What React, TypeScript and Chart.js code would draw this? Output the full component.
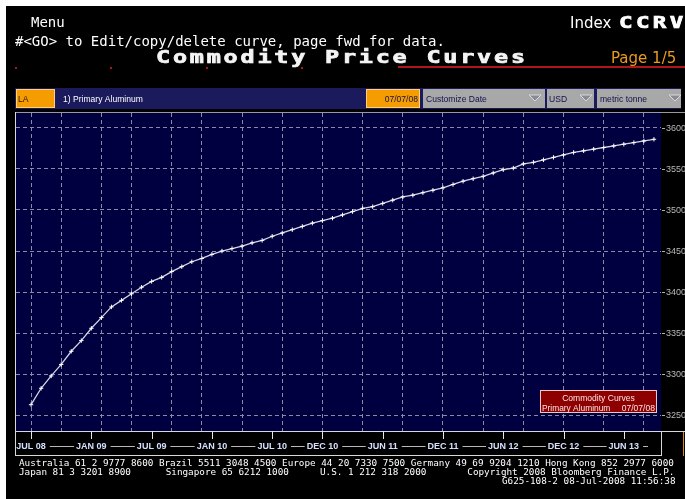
import React, { useEffect, useRef } from "react";
import { Chart, registerables } from "chart.js";

Chart.register(...registerables);

// Months after JUL 08 for each point on the forward curve
const monthOffsets = [
  0, 1, 2, 3, 4, 5, 6, 7, 8, 9, 10, 11, 12, 13, 14, 15, 16, 17, 18, 19, 20,
  21, 22, 23, 24, 25, 26, 27, 28, 29, 30, 31, 32, 33, 34, 35, 36, 37, 38, 39,
  40, 41, 42, 43, 44, 45, 46, 47, 48, 49, 50, 51, 52, 53, 54, 55, 56, 57, 58,
  59, 60, 61, 62,
];

// Primary Aluminum price curve, USD / metric tonne
const prices = [
  3263, 3283, 3298, 3312, 3328, 3341, 3356, 3369, 3382, 3390, 3398, 3406, 3413,
  3418, 3425, 3431, 3437, 3441, 3446, 3450, 3453, 3456, 3460, 3463, 3468, 3472,
  3476, 3480, 3484, 3487, 3490, 3494, 3498, 3502, 3504, 3508, 3512, 3516, 3518,
  3521, 3524, 3527, 3531, 3535, 3538, 3541, 3545, 3549, 3551, 3556, 3558, 3561,
  3564, 3567, 3570, 3572, 3574, 3576, 3578, 3580, 3582, 3584, 3586,
];

const yTicks = [3250, 3300, 3350, 3400, 3450, 3500, 3550, 3600];
const gridMonths = [0, 3, 7, 10, 14, 17, 21, 25, 29, 33, 37, 41, 45, 49, 53, 57, 61];
const xTickLabels = [
  "JUL 08", "JAN 09", "JUL 09", "JAN 10", "JUL 10", "DEC 10",
  "JUN 11", "DEC 11", "JUN 12", "DEC 12", "JUN 13",
];
const xTickMonths = [0, 6, 12, 18, 24, 29, 35, 41, 47, 53, 59];

const W = 685;
const H = 499;

function drawWide(ctx: CanvasRenderingContext2D, text: string, x0: number, y: number, step: number, sx: number) {
  for (let i = 0; i < text.length; i++) {
    const ch = text[i];
    if (ch === " ") continue;
    ctx.save();
    ctx.translate(x0 + i * step, y);
    ctx.scale(sx, 1);
    ctx.lineWidth = 0.7;
    ctx.strokeStyle = ctx.fillStyle as string;
    ctx.fillText(ch, 0, 0);
    ctx.strokeText(ch, 0, 0);
    ctx.restore();
  }
}

function narrowText(ctx: CanvasRenderingContext2D, text: string, x: number, y: number, sx: number, align: "left" | "right" | "center") {
  ctx.save();
  ctx.translate(x, y);
  ctx.scale(sx, 1);
  ctx.textAlign = align;
  ctx.fillText(text, 0, 0);
  ctx.restore();
}

function triangle(ctx: CanvasRenderingContext2D, cx: number, cy: number) {
  ctx.beginPath();
  ctx.moveTo(cx - 6, cy - 3);
  ctx.lineTo(cx + 6, cy - 3);
  ctx.lineTo(cx, cy + 3);
  ctx.closePath();
  ctx.fillStyle = "#8a8a96";
  ctx.fill();
  ctx.strokeStyle = "#d8d8d8";
  ctx.lineWidth = 1;
  ctx.stroke();
}

const terminalPlugin = {
  id: "terminal",
  beforeDraw(chart: any) {
    const ctx: CanvasRenderingContext2D = chart.ctx;
    const ca = chart.chartArea;
    ctx.save();
    ctx.fillStyle = "#ffffff";
    ctx.fillRect(0, 0, W, H);
    ctx.fillStyle = "#000000";
    ctx.fillRect(6, 6, W - 6, H - 6);

    // Header
    ctx.textBaseline = "alphabetic";
    ctx.textAlign = "left";
    ctx.fillStyle = "#ffffff";
    ctx.font = '14px "DejaVu Sans Mono"';
    ctx.fillText("Menu", 31, 27);
    ctx.fillText("#<GO> to Edit/copy/delete curve, page fwd for data.", 15, 45.5);
    ctx.font = '15px "DejaVu Sans"';
    ctx.fillText("Index", 570, 28);
    ctx.font = 'bold 16px "DejaVu Sans Mono"';
    drawWide(ctx, "CCRV", 619, 28, 16.9, 1.4);
    ctx.font = 'bold 17px "DejaVu Sans Mono"';
    ctx.fillStyle = "#f4f4f4";
    drawWide(ctx, "Commodity Price Curves", 156, 63, 16.9, 1.38);
    ctx.fillStyle = "#eb9b1e";
    ctx.font = '15px "DejaVu Sans"';
    ctx.fillText("Page 1/5", 611, 63);
    ctx.fillStyle = "#b0141e";
    ctx.fillRect(398, 66, W - 398, 2);
    [15, 110, 206, 301].forEach((x) => ctx.fillRect(x, 67, 2, 2));

    // Toolbar
    ctx.fillStyle = "#1a1a5c";
    ctx.fillRect(15, 88, 666, 21);
    ctx.fillStyle = "#f59c00";
    ctx.fillRect(16, 89, 39, 19);
    ctx.fillRect(366, 89, 54, 19);
    ctx.strokeStyle = "#ffd080";
    ctx.lineWidth = 1;
    ctx.strokeRect(16.5, 89.5, 38, 18);
    ctx.strokeRect(366.5, 89.5, 53, 18);
    ctx.fillStyle = "#a8a8a8";
    ctx.fillRect(423, 89, 122, 19);
    ctx.fillRect(547, 89, 47, 19);
    ctx.fillRect(597, 89, 84, 19);
    triangle(ctx, 535, 98);
    triangle(ctx, 586, 98);
    triangle(ctx, 675, 98);
    ctx.font = '9px "Liberation Sans"';
    ctx.fillStyle = "#2a1600";
    narrowText(ctx, "LA", 18, 102, 0.95, "left");
    ctx.fillStyle = "#ffffff";
    narrowText(ctx, "1) Primary Aluminum", 63, 102, 0.95, "left");
    ctx.fillStyle = "#10104a";
    narrowText(ctx, "07/07/08", 418, 102, 0.95, "right");
    narrowText(ctx, "Customize Date", 426, 102, 0.95, "left");
    narrowText(ctx, "USD", 549, 102, 0.95, "left");
    narrowText(ctx, "metric tonne", 600, 102, 0.95, "left");

    // Plot background
    ctx.fillStyle = "#000040";
    ctx.fillRect(ca.left, ca.top, ca.right - ca.left, ca.bottom - ca.top);
    ctx.restore();
  },
  afterDraw(chart: any) {
    const ctx: CanvasRenderingContext2D = chart.ctx;
    const ca = chart.chartArea;
    const xs = chart.scales.x;
    const ys = chart.scales.y;
    ctx.save();

    // Frame
    ctx.lineWidth = 1;
    ctx.strokeStyle = "#9a9a9a";
    ctx.beginPath();
    ctx.moveTo(15, 112.5);
    ctx.lineTo(W, 112.5);
    ctx.stroke();
    ctx.strokeStyle = "#d8d8d8";
    ctx.beginPath();
    ctx.moveTo(15.5, 112);
    ctx.lineTo(15.5, 456);
    ctx.moveTo(15, ca.bottom + 0.5);
    ctx.lineTo(W, ca.bottom + 0.5);
    ctx.moveTo(ca.right + 0.5, ca.bottom);
    ctx.lineTo(ca.right + 0.5, 456);
    ctx.moveTo(15, 455.5);
    ctx.lineTo(ca.right, 455.5);
    ctx.stroke();
    ctx.strokeStyle = "#e08a10";
    ctx.beginPath();
    ctx.moveTo(683.5, ca.bottom + 1);
    ctx.lineTo(683.5, 456);
    ctx.stroke();

    // Y labels on the right
    ctx.font = '9px "Liberation Sans"';
    ctx.textBaseline = "middle";
    ctx.textAlign = "left";
    yTicks.forEach((v) => {
      const y = Math.round(ys.getPixelForValue(v)) + 0.5;
      ctx.strokeStyle = "#b0b0b0";
      ctx.beginPath();
      ctx.moveTo(662, y);
      ctx.lineTo(665, y);
      ctx.stroke();
      ctx.fillStyle = "#b8b8b8";
      ctx.fillText(String(v), 666, y + 0.5);
    });

    // X axis band
    ctx.font = 'bold 9px "Liberation Sans"';
    ctx.textAlign = "center";
    ctx.textBaseline = "alphabetic";
    const boxes: { l: number; r: number }[] = [];
    xTickMonths.forEach((m, i) => {
      const x = xs.getPixelForValue(m);
      const px = Math.round(x) + 0.5;
      ctx.strokeStyle = "#e8e8e8";
      ctx.beginPath();
      ctx.moveTo(px, ca.bottom);
      ctx.lineTo(px, ca.bottom + 8);
      ctx.stroke();
      ctx.fillStyle = "#d4e0ff";
      ctx.fillText(xTickLabels[i], x, 448.5);
      const w = ctx.measureText(xTickLabels[i]).width;
      boxes.push({ l: x - w / 2, r: x + w / 2 });
    });
    ctx.strokeStyle = "#b8b8b8";
    ctx.beginPath();
    for (let i = 0; i < boxes.length; i++) {
      const start = boxes[i].r + 4;
      const end = i + 1 < boxes.length ? boxes[i + 1].l - 2 : ca.right - 13;
      ctx.moveTo(start, 446.5);
      ctx.lineTo(end, 446.5);
    }
    ctx.stroke();

    // Legend box
    ctx.fillStyle = "#8e0000";
    ctx.fillRect(540, 390, 117, 23);
    ctx.strokeStyle = "#e8c8c8";
    ctx.strokeRect(540.5, 390.5, 116, 22);
    ctx.font = '9.5px "Liberation Sans"';
    ctx.fillStyle = "#f8e4e4";
    narrowText(ctx, "Commodity Curves", 598.5, 400.5, 0.9, "center");
    narrowText(ctx, "Primary Aluminum", 542, 410.5, 0.88, "left");
    narrowText(ctx, "07/07/08", 655, 410.5, 0.9, "right");

    // Footer
    ctx.textAlign = "left";
    ctx.fillStyle = "#ffffff";
    ctx.font = '9.3px "DejaVu Sans Mono"';
    ctx.fillText(
      "Australia 61 2 9777 8600 Brazil 5511 3048 4500 Europe 44 20 7330 7500 Germany 49 69 9204 1210 Hong Kong 852 2977 6000",
      19, 466
    );
    ctx.fillText("Japan 81 3 3201 8900", 19, 475);
    ctx.fillText("Singapore 65 6212 1000", 165.7, 475);
    ctx.fillText("U.S. 1 212 318 2000", 320, 475);
    ctx.fillText("Copyright 2008 Bloomberg Finance L.P.", 467.3, 475);
    ctx.fillText("G625-108-2 08-Jul-2008 11:56:38", 502, 484);
    ctx.restore();
  },
};

export default function App() {
  const ref = useRef<HTMLCanvasElement>(null);
  useEffect(() => {
    const canvas = ref.current;
    if (!canvas) return;
    const gridColor = "#8a8aa6";
    const chart = new Chart(canvas, {
      type: "line",
      data: {
        datasets: [
          {
            label: "Primary Aluminum",
            data: monthOffsets.map((m, i) => ({ x: m, y: prices[i] })),
            borderColor: "#d4d4e4",
            borderWidth: 1.3,
            pointStyle: "cross",
            pointRadius: 2.2,
            pointBorderColor: "#ffffff",
            pointBorderWidth: 1,
            pointBackgroundColor: "#ffffff",
            tension: 0,
          },
        ],
      },
      options: {
        animation: false,
        responsive: false,
        devicePixelRatio: 1,
        events: [],
        layout: { autoPadding: false, padding: { left: 16, top: 113, right: 24, bottom: 68 } },
        plugins: { legend: { display: false }, tooltip: { enabled: false } },
        scales: {
          x: {
            type: "linear",
            min: -1.5,
            max: 62.7,
            afterBuildTicks: (s: any) => {
              s.ticks = gridMonths.map((v) => ({ value: v }));
            },
            ticks: { display: false },
            grid: { color: gridColor, lineWidth: 1, drawTicks: false },
            border: { display: false, dash: [4, 3] },
          },
          y: {
            type: "linear",
            min: 3231,
            max: 3618,
            afterBuildTicks: (s: any) => {
              s.ticks = yTicks.map((v) => ({ value: v }));
            },
            ticks: { display: false },
            grid: { color: gridColor, lineWidth: 1, drawTicks: false },
            border: { display: false, dash: [4, 3] },
          },
        },
      } as any,
      plugins: [terminalPlugin as any],
    });
    return () => chart.destroy();
  }, []);
  return (
    <div style={{ position: "absolute", left: 0, top: 0, width: W, height: H }}>
      <canvas ref={ref} width={W} height={H} style={{ display: "block", width: W, height: H }} />
    </div>
  );
}
